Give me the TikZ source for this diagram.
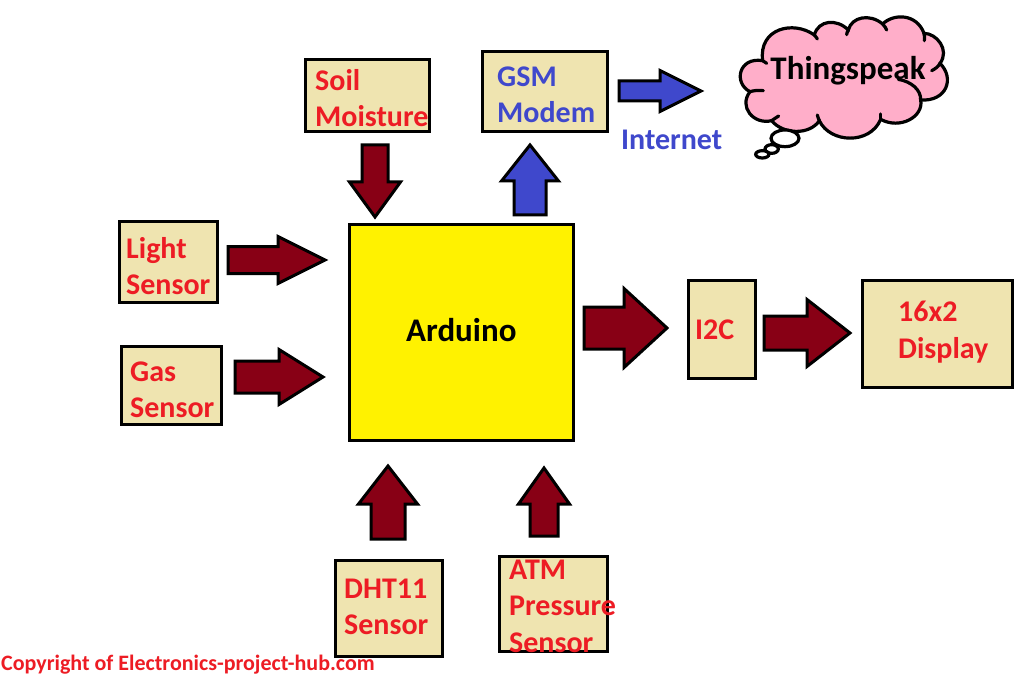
\documentclass[tikz,border=0pt]{standalone}
\usepackage{fontspec}
\setmainfont{Carlito}
\usetikzlibrary{calc}
\definecolor{boxfill}{HTML}{EFE4B0}
\definecolor{lblred}{HTML}{ED1C24}
\definecolor{lblblue}{HTML}{3F48CC}
\definecolor{darkred}{HTML}{880015}
\definecolor{ardyellow}{HTML}{FFF200}
\definecolor{cloudpink}{HTML}{FFAEC9}
\tikzset{
  x=1pt,y=-1pt,
  box/.style={draw=black,line width=3pt,fill=boxfill,inner sep=0pt,outer sep=0pt,anchor=north west},
  lbl/.style={font=\bfseries\fontsize{30}{36.5}\selectfont,text=lblred,align=left,anchor=west,inner sep=0pt},
  lblb/.style={lbl,text=lblblue},
  bigl/.style={lbl,text=black,font=\bfseries\fontsize{33}{36}\selectfont},
  redarrow/.style={draw=black,line width=3pt,fill=darkred,line join=miter},
  bluearrow/.style={draw=black,line width=3pt,fill=lblblue,line join=miter},
  cloudline/.style={draw=black,line width=3.2pt,line cap=round},
}
% style, tail, tip, shaft half width, head half width, head length
\newcommand\blockarrow[6]{%
  \coordinate (hb) at ($(#3)!#6pt!(#2)$);
  \draw[#1] ($(#2)!#4pt!90:(#3)$) -- ($(hb)!#4pt!90:(#3)$) -- ($(hb)!#5pt!90:(#3)$) -- (#3)
     -- ($(hb)!#5pt!-90:(#3)$) -- ($(hb)!#4pt!-90:(#3)$) -- ($(#2)!#4pt!-90:(#3)$) -- cycle;
}
\newcommand\pxbox[6]{\node[#2,minimum width=#5pt-3pt,minimum height=#6pt-3pt] (#1) at (#3+1.5,#4+1.5) {};}
\begin{document}
\begin{tikzpicture}
\useasboundingbox (0,0) rectangle (1024,676);
\fill[white] (0,0) rectangle (1024,676);
% boxes
\pxbox{soil}{box}{304}{58}{127}{75}
\pxbox{gsm}{box}{481}{50}{128}{83}
\pxbox{light}{box}{118}{220}{101}{84}
\pxbox{gas}{box}{120}{345}{103}{81}
\pxbox{ard}{box,fill=ardyellow}{348}{223}{227}{219}
\pxbox{iic}{box}{687}{279}{70}{101}
\pxbox{disp}{box}{861}{279}{153}{110}
\pxbox{dht}{box}{334}{559}{110}{99}
\pxbox{atm}{box}{498}{555}{111}{98}
% labels
\node[lbl] (tsoil) at (315,98) {Soil\\Moisture};
\node[lblb] (tgsm) at (497,95) {GSM\\Modem};
\node[lbl] (tlight) at (126,266) {Light\\Sensor};
\node[lbl] (tgas) at (130,390) {Gas\\Sensor};
\node[lbl] (tiic) at (695,330) {I2C};
\node[lbl] (tdisp) at (898,332) {16x2\\Display};
\node[lbl] (tdht) at (344,607) {DHT11\\Sensor};
\node[lbl] (tatm) at (509,606) {ATM\\Pressure\\Sensor};
\node[bigl] (tard) at (406,330) {Arduino};
\node[lblb] (tnet) at (621,140) {Internet};
\node[lbl,font=\bfseries\fontsize{22}{24}\selectfont,anchor=west] (copy) at (1,664.5) {Copyright of Electronics-project-hub.com};
% arrow ends
\coordinate (a1) at (375,145); \coordinate (a1t) at (375,217);
\coordinate (a2) at (228,260); \coordinate (a2t) at (325,260);
\coordinate (a3) at (235,377); \coordinate (a3t) at (323,377);
\coordinate (a4) at (388,539); \coordinate (a4t) at (388,466);
\coordinate (a5) at (544,536); \coordinate (a5t) at (544,468);
\coordinate (a6) at (584,328); \coordinate (a6t) at (667,328);
\coordinate (a7) at (764,333); \coordinate (a7t) at (850,333);
\coordinate (a8) at (530,215); \coordinate (a8t) at (530,145);
\coordinate (a9) at (619,91);  \coordinate (a9t) at (701,91);
\blockarrow{redarrow}{a1}{a1t}{13}{25.5}{35}
\blockarrow{redarrow}{a2}{a2t}{13.5}{23.5}{47}
\blockarrow{redarrow}{a3}{a3t}{16}{27.5}{44}
\blockarrow{redarrow}{a4}{a4t}{17}{29.5}{38}
\blockarrow{redarrow}{a5}{a5t}{14}{25.5}{36}
\blockarrow{redarrow}{a6}{a6t}{21}{39.5}{43}
\blockarrow{redarrow}{a7}{a7t}{17}{33.5}{43}
\blockarrow{bluearrow}{a8}{a8t}{16}{28.5}{36}
\blockarrow{bluearrow}{a9}{a9t}{10}{20.5}{41}
% cloud (drawn in the 3x zoom coordinates)
\begin{scope}[shift={(720,0)},x=0.33333pt,y=-0.33333pt]
  \path[fill=cloudpink,cloudline]
    (128,182) .. controls (55,170) and (40,250) .. (90,275)
    .. controls (55,320) and (100,375) .. (155,362)
    .. controls (190,405) and (270,405) .. (298,362)
    .. controls (330,430) and (450,435) .. (482,358)
    .. controls (540,390) and (612,350) .. (602,300)
    .. controls (680,305) and (705,235) .. (660,190)
    .. controls (690,150) and (650,100) .. (612,100)
    .. controls (590,40) and (520,40) .. (488,72)
    .. controls (450,40) and (395,50) .. (385,90)
    .. controls (350,55) and (295,60) .. (283,105)
    .. controls (220,60) and (115,85) .. (128,182) -- cycle;
  \draw[cloudline] (128,182) -- (140,190);
  \draw[cloudline] (90,275) .. controls (100,272) and (115,270) .. (130,272);
  \draw[cloudline] (155,362) .. controls (160,358) and (170,352) .. (176,348);
  \draw[cloudline] (298,362) .. controls (295,355) and (293,350) .. (292,345);
  \draw[cloudline] (482,358) .. controls (482,352) and (482,348) .. (482,342);
  \draw[cloudline] (602,300) .. controls (603,270) and (575,245) .. (535,238);
  \draw[cloudline] (660,190) .. controls (655,200) and (645,207) .. (635,212);
  \draw[cloudline] (612,100) .. controls (614,108) and (614,115) .. (613,122);
  \draw[cloudline] (488,72) .. controls (494,78) and (498,85) .. (500,90);
  \draw[cloudline] (385,90) .. controls (382,95) and (380,100) .. (380,104);
  \draw[cloudline] (283,105) .. controls (287,110) and (290,113) .. (292,117);
  \path[fill=white,cloudline] (195,415) ellipse [x radius=42,y radius=25];
  \path[fill=white,cloudline] (155,447) ellipse [x radius=20,y radius=13];
  \path[fill=white,cloudline] (127,463) ellipse [x radius=20,y radius=11];
\end{scope}
\node[bigl,anchor=center] (tthing) at (848,71) {Thingspeak};
\end{tikzpicture}
\end{document}
